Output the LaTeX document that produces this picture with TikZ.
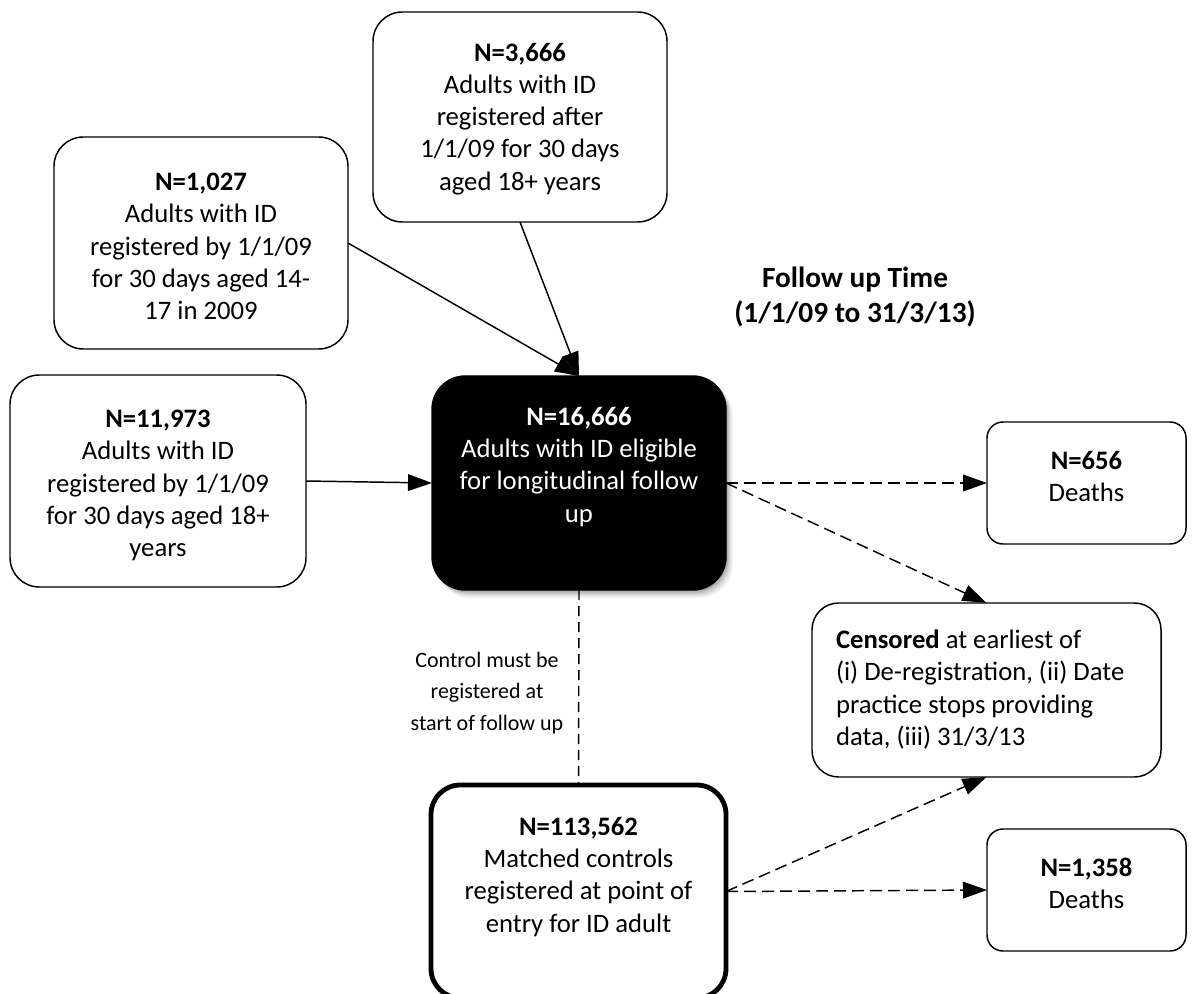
\documentclass[tikz,border=0pt]{standalone}
\usepackage{fontspec}
\setmainfont{Carlito}
\usetikzlibrary{arrows.meta}
\tikzset{
  box/.style={draw=black, line width=1.1pt, fill=white, inner sep=0pt, outer sep=0pt, rounded corners=22pt},
  txt/.style={inner sep=0pt, outer sep=0pt, align=center, font=\fontsize{20}{24.2}\selectfont},
  conn/.style={line width=1.1pt, -{Triangle[length=18pt,width=12.5pt]}},
  dconn/.style={conn, dash pattern=on 9pt off 4.5pt},
}
\begin{document}
\begin{tikzpicture}[x=0.75pt,y=-0.75pt]
\useasboundingbox (0,0) rectangle (1198,994);
% boxes
\node[box, minimum width=220.5pt, minimum height=157.5pt] (A) at (520,117) {};
\node[box, minimum width=220.5pt, minimum height=159pt] (B) at (201,243) {};
\node[box, minimum width=222pt, minimum height=159pt] (C) at (158,481) {};
% shadow of D
\foreach \i/\o in {1/0.12,2/0.09,3/0.07,4/0.06,5/0.05,6/0.04,7/0.03}{
  \fill[black, opacity=\o, rounded corners=25pt] (432+1.5+\i*0.5,376+2+\i*0.7) rectangle (726+\i*1.0,590+\i*1.2);
}
\node[box, fill=black, rounded corners=25pt, minimum width=220.5pt, minimum height=160.5pt] (D) at (579,483) {};
\node[box, rounded corners=12pt, minimum width=149.25pt, minimum height=91.5pt] (E) at (1086.5,483) {};
\node[box, rounded corners=20pt, minimum width=261.75pt, minimum height=130.5pt] (F) at (986.5,690) {};
\node[box, line width=3.6pt, minimum width=221.25pt, minimum height=159.75pt] (G) at (578.5,891.5) {};
\node[box, rounded corners=12pt, minimum width=149.25pt, minimum height=91.5pt] (H) at (1086.5,890) {};
% texts
\node[txt, anchor=north] (tA) at (520,43) {\textbf{N=3,666}\\Adults with ID\\registered after\\1/1/09 for 30 days\\aged 18+ years};
\node[txt, anchor=north] (tB) at (201,173) {\textbf{N=1,027}\\Adults with ID\\registered by 1/1/09\\for 30 days aged 14-\\17 in 2009};
\node[txt, anchor=north] (tC) at (158,410) {\textbf{N=11,973}\\Adults with ID\\registered by 1/1/09\\for 30 days aged 18+\\years};
\node[txt, anchor=north, text=white] (tD) at (579,407) {\textbf{N=16,666}\\Adults with ID eligible\\for longitudinal follow\\up};
\node[txt, anchor=north] (tE) at (1086.5,451) {\textbf{N=656}\\Deaths};
\node[txt, anchor=north west, align=left] (tF) at (836,630) {\textbf{Censored} at earliest of\\(i) De-registration, (ii) Date\\practice stops providing\\data, (iii) 31/3/13};
\node[txt, anchor=north] (tG) at (578.5,817) {\textbf{N=113,562}\\Matched controls\\registered at point of\\entry for ID adult};
\node[txt, anchor=north] (tH) at (1086.5,858) {\textbf{N=1,358}\\Deaths};
\node[txt, anchor=north, font=\fontsize{22}{26}\selectfont\bfseries] (tFU) at (855,267) {Follow up Time\\(1/1/09 to 31/3/13)};
\node[txt, anchor=north, font=\fontsize{16.5}{23.6}\selectfont] (tCtl) at (487,652) {Control must be\\registered at\\start of follow up};
% connectors
\draw[conn] (A.south) -- (D.north);
\draw[conn] (B.east) -- (D.north);
\draw[conn] (C.east) -- (D.west);
\draw[dconn] (D.east) -- (E.west);
\draw[dconn] (D.east) -- (F.north);
\draw[dconn] (G.east) -- (F.south);
\draw[dconn] (G.east) -- (H.west);
\draw[line width=1.1pt, dash pattern=on 7.5pt off 4.5pt] (D.south) -- (G.north);
\end{tikzpicture}
\end{document}
